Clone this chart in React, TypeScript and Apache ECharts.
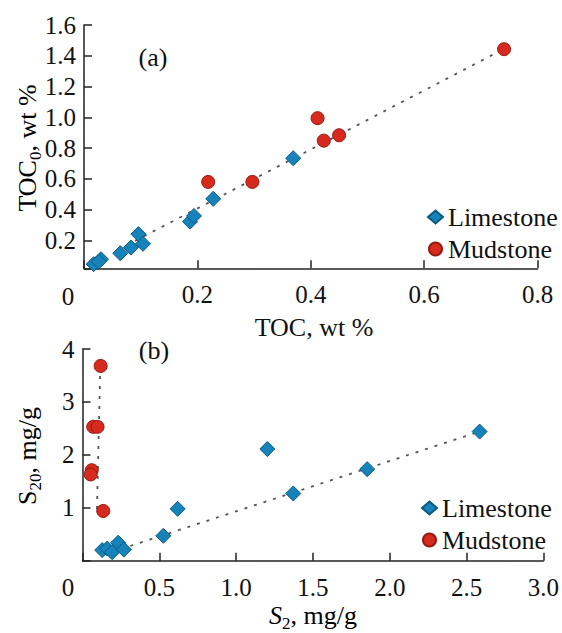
import React, { useEffect, useRef } from "react";
import * as echarts from "echarts";

// Panel (a): TOC vs TOC0
const limeA_TOC = [0.017, 0.03, 0.026, 0.064, 0.083, 0.096, 0.104, 0.187, 0.194, 0.228, 0.369];
const limeA_TOC0 = [0.047, 0.079, 0.064, 0.118, 0.155, 0.242, 0.179, 0.323, 0.36, 0.471, 0.735];
const mudA_TOC = [0.219, 0.297, 0.412, 0.423, 0.45, 0.741];
const mudA_TOC0 = [0.581, 0.581, 0.995, 0.849, 0.884, 1.443];
const trendA_x = [0.09, 0.741];
const trendA_y = [0.198, 1.445];

// Panel (b): S2 vs S20
const limeB_S2 = [0.128, 0.161, 0.193, 0.232, 0.269, 0.526, 0.619, 1.203, 1.372, 1.853, 2.585];
const limeB_S20 = [0.2, 0.23, 0.16, 0.34, 0.21, 0.47, 0.98, 2.11, 1.27, 1.73, 2.44];
const mudB_S2 = [0.118, 0.07, 0.098, 0.06, 0.053, 0.135];
const mudB_S20 = [3.68, 2.53, 2.53, 1.71, 1.63, 0.94];
const trendB1_x = [0.25, 2.585];
const trendB1_y = [0.22, 2.44];
const trendB2_x = [0.116, 0.094];
const trendB2_y = [3.68, 0.95];

const zip = (xs: number[], ys: number[]) => xs.map((x, i) => [x, ys[i]]);

const FONT = "'Liberation Serif', 'Times New Roman', serif";
const TXT = "#111";
const LIME = { color: "#1684bb", borderColor: "#0c5a82", borderWidth: 1, opacity: 1 };
const MUD = { color: "#d62a1e", borderColor: "#961a10", borderWidth: 1, opacity: 1 };
const DOT = { color: "#555", width: 1.8, type: [3, 7] as number[] };

export default function App() {
  const ref = useRef<HTMLDivElement>(null);
  useEffect(() => {
    if (!ref.current) return;
    const chart = echarts.init(ref.current, undefined, { renderer: "svg" });
    const axisCommon = {
      axisLine: { show: true, lineStyle: { color: "#222", width: 1.5 } },
      axisTick: { show: true, inside: true, length: 8, lineStyle: { color: "#222", width: 1.5 } },
      splitLine: { show: false },
      axisLabel: { color: TXT, fontFamily: FONT, fontSize: 25 },
    };
    const textStyle = { fontFamily: FONT, fontSize: 26, fill: TXT };
    const main = { fontFamily: FONT, fontSize: 26, color: TXT, lineHeight: 30, verticalAlign: "middle" };
    const sub = { fontFamily: FONT, fontSize: 17, color: TXT, lineHeight: 34, verticalAlign: "bottom" };
    const legendCommon = {
      orient: "vertical",
      itemWidth: 15,
      itemHeight: 13,
      itemGap: 6,
      textStyle: { fontFamily: FONT, fontSize: 26, color: TXT, lineHeight: 25 },
      data: [
        { name: "Limestone", icon: "diamond" },
        { name: "Mudstone", icon: "circle" },
      ],
      selectedMode: false,
    };
    const center = { align: "center", verticalAlign: "middle", textAlign: "center", textVerticalAlign: "middle" };
    chart.setOption({
      animation: false,
      backgroundColor: "#fff",
      grid: [
        { left: 84, top: 25, width: 453.5, height: 243.3 },
        { left: 82.5, top: 349, width: 462.5, height: 211.7 },
      ],
      xAxis: [
        {
          type: "value", gridIndex: 0, min: 0, max: 0.8, interval: 0.2,
          ...axisCommon,
          axisLabel: { ...axisCommon.axisLabel, margin: 14, formatter: (v: number) => (v === 0 ? "" : v.toFixed(1)) },
        },
        {
          type: "value", gridIndex: 1, min: 0, max: 3, interval: 0.5,
          ...axisCommon,
          axisLabel: { ...axisCommon.axisLabel, margin: 14, formatter: (v: number) => (v === 0 ? "" : v.toFixed(1)) },
        },
      ],
      yAxis: [
        {
          type: "value", gridIndex: 0, min: 0.02, max: 1.6, splitNumber: 8,
          ...axisCommon,
          axisLabel: {
            ...axisCommon.axisLabel, margin: 8,
            formatter: (v: number) => (Math.abs(v - 0.02) < 1e-6 ? "" : v.toFixed(1)),
          },
        },
        {
          type: "value", gridIndex: 1, min: 0, max: 4, interval: 1,
          ...axisCommon,
          axisLabel: { ...axisCommon.axisLabel, margin: 8, formatter: (v: number) => (v === 0 ? "" : String(v)) },
        },
      ],
      legend: [
        { ...legendCommon, left: 422, top: 199 },
        { ...legendCommon, left: 416, top: 490 },
      ],
      series: [
        { type: "line", name: "trendA", xAxisIndex: 0, yAxisIndex: 0, data: zip(trendA_x, trendA_y), showSymbol: false, lineStyle: DOT, z: 1, silent: true },
        { type: "line", name: "trendB1", xAxisIndex: 1, yAxisIndex: 1, data: zip(trendB1_x, trendB1_y), showSymbol: false, lineStyle: DOT, z: 1, silent: true },
        { type: "line", name: "trendB2", xAxisIndex: 1, yAxisIndex: 1, data: zip(trendB2_x, trendB2_y), showSymbol: false, lineStyle: DOT, z: 1, silent: true },
        { type: "scatter", name: "Limestone", xAxisIndex: 0, yAxisIndex: 0, data: zip(limeA_TOC, limeA_TOC0), symbol: "diamond", symbolSize: 15, itemStyle: LIME, z: 3 },
        { type: "scatter", name: "Mudstone", xAxisIndex: 0, yAxisIndex: 0, data: zip(mudA_TOC, mudA_TOC0), symbol: "circle", symbolSize: 13, itemStyle: MUD, z: 3 },
        { type: "scatter", name: "Limestone", xAxisIndex: 1, yAxisIndex: 1, data: zip(limeB_S2, limeB_S20), symbol: "diamond", symbolSize: 15, itemStyle: LIME, z: 3 },
        { type: "scatter", name: "Mudstone", xAxisIndex: 1, yAxisIndex: 1, data: zip(mudB_S2, mudB_S20), symbol: "circle", symbolSize: 13, itemStyle: MUD, z: 3 },
      ],
      graphic: [
        { type: "text", x: 153, y: 57, style: { ...textStyle, text: "(a)", ...center } },
        { type: "text", x: 154, y: 350, style: { ...textStyle, text: "(b)", ...center } },
        { type: "text", x: 68, y: 296, style: { ...textStyle, fontSize: 25, text: "0", ...center } },
        { type: "text", x: 68, y: 587, style: { ...textStyle, fontSize: 25, text: "0", ...center } },
        { type: "text", x: 314, y: 327, style: { ...textStyle, text: "TOC, wt %", ...center } },
        {
          type: "text", x: 313, y: 615,
          style: {
            text: "{i|S}{s|2}{m|, mg/g}", ...center,
            rich: { i: { ...main, fontStyle: "italic" }, s: sub, m: main },
          },
        },
        {
          type: "text", x: 27, y: 148, rotation: Math.PI / 2,
          style: {
            text: "{m|TOC}{s|0}{m|, wt %}", ...center,
            rich: { s: sub, m: main },
          },
        },
        {
          type: "text", x: 27, y: 456, rotation: Math.PI / 2,
          style: {
            text: "{m|S}{s|20}{m|, mg/g}", ...center,
            rich: { s: sub, m: main },
          },
        },
      ],
    });
    return () => chart.dispose();
  }, []);
  return <div ref={ref} style={{ width: 562, height: 633, position: "absolute", left: 0, top: 0 }} />;
}
